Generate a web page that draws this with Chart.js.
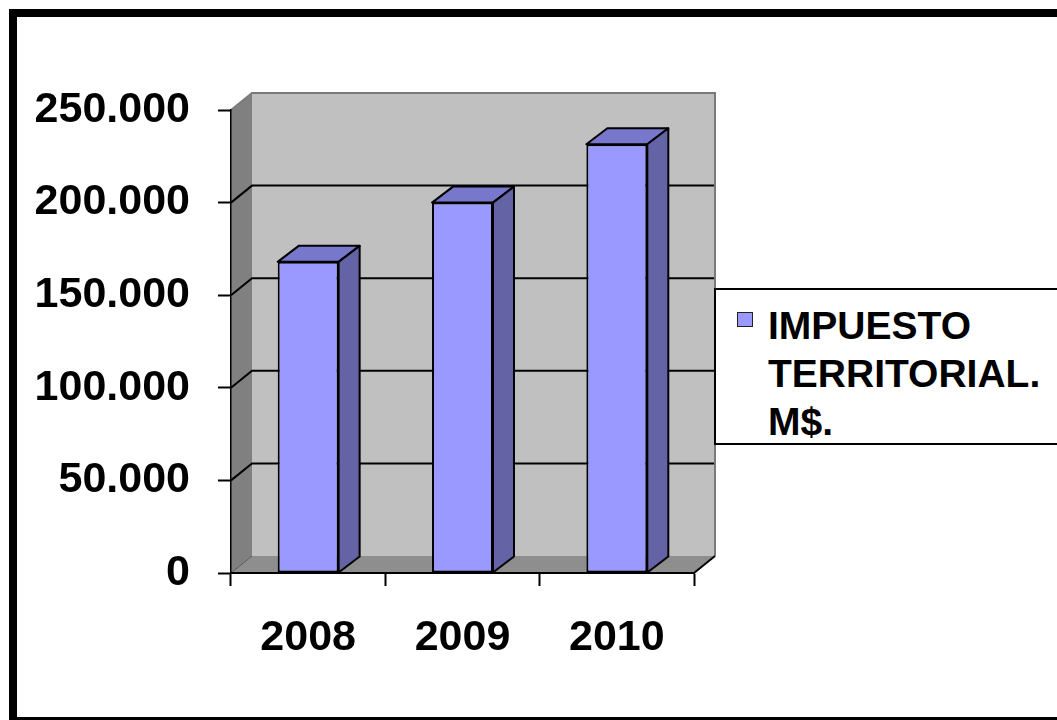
<!DOCTYPE html>
<html><head><meta charset="utf-8">
<script src="https://cdn.jsdelivr.net/npm/chart.js@4/dist/chart.umd.min.js"></script>
<style>
html,body{margin:0;padding:0;background:#fff;overflow:hidden;width:1057px;height:720px;}
#frame{position:absolute;left:9px;top:9px;width:1200px;height:716px;box-sizing:border-box;border:8px solid #000;}
#c{position:absolute;left:0;top:0;}
#legend{position:absolute;left:714px;top:288px;width:400px;height:157px;box-sizing:border-box;border:2px solid #000;background:#fff;font:bold 39px "Liberation Sans",Arial,sans-serif;line-height:48px;padding:12px 0 0 52px;color:#000;}
#legend .sw{position:absolute;left:21px;top:22px;width:16px;height:15px;box-sizing:border-box;border:1.5px solid #222;background:#9999FF;}
#legend .txt{width:285px;}
</style></head><body>
<div id="frame"></div>
<canvas id="c" width="1057" height="720"></canvas>
<div id="legend"><span class="sw"></span><div class="txt" id="legtxt"></div></div>
<script>
const categories = ['2008', '2009', '2010'];
const impuestoValues = [168000, 200000, 231500];
const yTickValues = [0, 50000, 100000, 150000, 200000, 250000];
const seriesName = 'IMPUESTO TERRITORIAL. M$.';

document.getElementById('legtxt').textContent = seriesName;

const FONT = '"Liberation Sans", Arial, sans-serif';
const DX = 21, DY = 17, BDX = 21, BDY = 16;

function fmt(v){ return String(v).replace(/\B(?=(\d{3})+(?!\d))/g, '.'); }

function poly(ctx, pts){ ctx.beginPath(); ctx.moveTo(pts[0][0], pts[0][1]); for (let i=1;i<pts.length;i++) ctx.lineTo(pts[i][0], pts[i][1]); ctx.closePath(); }

const threeD = {
  id: 'threeD',
  beforeDraw(chart){
    const ctx = chart.ctx, a = chart.chartArea, y = chart.scales.y;
    ctx.save();
    ctx.fillStyle = '#C0C0C0';
    ctx.fillRect(a.left + DX, a.top - DY, a.right - a.left, a.bottom - a.top);
    poly(ctx, [[a.left, a.top], [a.left + DX, a.top - DY], [a.left + DX, a.bottom - DY], [a.left, a.bottom]]);
    ctx.fillStyle = '#808080'; ctx.fill();
    poly(ctx, [[a.left, a.bottom], [a.right, a.bottom], [a.right + DX, a.bottom - DY], [a.left + DX, a.bottom - DY]]);
    ctx.fillStyle = '#8E8E8E'; ctx.fill();
    ctx.strokeStyle = '#000'; ctx.lineWidth = 2;
    y.ticks.forEach((t, i) => {
      if (i === 0 || i === y.ticks.length - 1) return;
      const yy = y.getPixelForValue(t.value);
      ctx.beginPath();
      ctx.moveTo(a.left, yy); ctx.lineTo(a.left + DX, yy - DY); ctx.lineTo(a.right + DX, yy - DY);
      ctx.stroke();
    });
    ctx.strokeStyle = '#7a7a7a'; ctx.lineWidth = 2;
    ctx.beginPath();
    ctx.moveTo(a.left, a.top); ctx.lineTo(a.left + DX, a.top - DY);
    ctx.lineTo(a.right + DX, a.top - DY); ctx.lineTo(a.right + DX, a.bottom - DY);
    ctx.stroke();
    ctx.strokeStyle = '#555'; ctx.lineWidth = 1;
    ctx.beginPath(); ctx.moveTo(a.left, a.bottom); ctx.lineTo(a.left + DX, a.bottom - DY); ctx.stroke();
    ctx.strokeStyle = '#000'; ctx.lineWidth = 2;
    ctx.beginPath(); ctx.moveTo(a.right, a.bottom); ctx.lineTo(a.right + DX, a.bottom - DY); ctx.stroke();
    ctx.restore();
  },
  afterDatasetsDraw(chart){
    const ctx = chart.ctx;
    const meta = chart.getDatasetMeta(0);
    ctx.save();
    ctx.strokeStyle = '#000'; ctx.lineWidth = 2; ctx.lineJoin = 'round';
    meta.data.forEach(el => {
      const p = el.getProps(['x', 'y', 'base', 'width'], true);
      const l = p.x - p.width / 2, r = p.x + p.width / 2;
      poly(ctx, [[l, p.y], [l + BDX, p.y - BDY], [r + BDX, p.y - BDY], [r, p.y]]);
      ctx.fillStyle = '#7777CC'; ctx.fill(); ctx.stroke();
      poly(ctx, [[r, p.y], [r + BDX, p.y - BDY], [r + BDX, p.base - BDY], [r, p.base]]);
      ctx.fillStyle = '#6363A6'; ctx.fill(); ctx.stroke();
    });
    ctx.restore();
  }
};

new Chart(document.getElementById('c'), {
  type: 'bar',
  data: {
    labels: categories,
    datasets: [{
      label: seriesName,
      data: impuestoValues,
      backgroundColor: '#9999FF',
      borderColor: '#000',
      borderWidth: 2,
      borderSkipped: false,
      barPercentage: 0.395,
      categoryPercentage: 1.0
    }]
  },
  options: {
    responsive: false,
    devicePixelRatio: 1,
    animation: false,
    layout: { padding: { top: 110, right: 363, bottom: 0, left: 0 } },
    plugins: { legend: { display: false }, tooltip: { enabled: false } },
    scales: {
      x: {
        grid: { drawOnChartArea: false, drawTicks: true, tickLength: 13, tickColor: '#000', tickWidth: 2, offset: true },
        border: { display: true, color: '#000', width: 2 },
        ticks: { font: { family: FONT, size: 43, weight: 'bold' }, color: '#000', padding: 26, maxRotation: 0 },
        afterFit: s => { s.height = 147; }
      },
      y: {
        min: 0, max: 250000,
        afterBuildTicks: s => { s.ticks = yTickValues.map(v => ({ value: v })); },
        grid: { drawOnChartArea: false, drawTicks: true, tickLength: 13, tickColor: '#000', tickWidth: 2 },
        border: { display: true, color: '#000', width: 1.5 },
        ticks: { font: { family: FONT, size: 43, weight: 'bold' }, color: '#000', padding: 28, callback: v => fmt(v) },
        afterFit: s => { s.width = 231; }
      }
    }
  },
  plugins: [threeD]
});
</script>
</body></html>
